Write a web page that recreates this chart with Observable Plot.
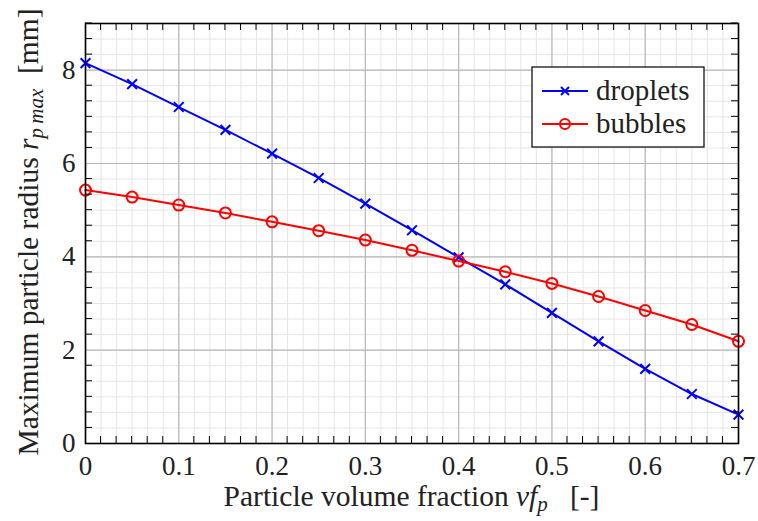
<!DOCTYPE html>
<html>
<head>
<meta charset="utf-8">
<script src="https://cdn.jsdelivr.net/npm/d3@7"></script>
<script src="https://cdn.jsdelivr.net/npm/@observablehq/plot@0.6"></script>
<style>
  body { margin: 0; background: #fff; }
  #chart { width: 758px; height: 521px; }
</style>
</head>
<body>
<div id="chart"></div>
<script>
// ---- data ----
const fractions = [0, 0.05, 0.1, 0.15, 0.2, 0.25, 0.3, 0.35, 0.4, 0.45, 0.5, 0.55, 0.6, 0.65, 0.7];
const droplets  = [8.15, 7.70, 7.21, 6.72, 6.21, 5.69, 5.14, 4.57, 3.99, 3.41, 2.80, 2.19, 1.60, 1.06, 0.62];
const bubbles   = [5.43, 5.28, 5.11, 4.94, 4.75, 4.56, 4.36, 4.14, 3.91, 3.68, 3.43, 3.15, 2.85, 2.55, 2.19];
const xTickValues = [0, 0.1, 0.2, 0.3, 0.4, 0.5, 0.6, 0.7];
const xTickLabels = ["0", "0.1", "0.2", "0.3", "0.4", "0.5", "0.6", "0.7"];
const yTickValues = [0, 2, 4, 6, 8];
const yTickLabels = ["0", "2", "4", "6", "8"];
const seriesNames = ["droplets", "bubbles"];
const seriesColors = ["#0000ff", "#ff0000"];

// minor subdivisions (5 minor ticks between majors)
const xMinor = d3.range(0, 43).map(i => i * 0.1 / 6);
const yMinor = d3.range(0, 28).map(i => i / 3);

const dropData = fractions.map((f, i) => ({x: f, y: droplets[i]}));
const bubData  = fractions.map((f, i) => ({x: f, y: bubbles[i]}));

const plot = Plot.plot({
  width: 758,
  height: 521,
  marginLeft: 85,
  marginRight: 20,
  marginTop: 23,
  marginBottom: 78,
  style: {fontFamily: "'Liberation Serif', serif", fontSize: "27px", background: "#fff", color: "#222"},
  x: {domain: [0, 0.7], label: null},
  y: {domain: [0, 9], label: null},
  marks: [
    Plot.gridX(xMinor, {stroke: "#e6e6e6", strokeOpacity: 1, strokeWidth: 1}),
    Plot.gridY(yMinor, {stroke: "#e6e6e6", strokeOpacity: 1, strokeWidth: 1}),
    Plot.gridX(xTickValues, {stroke: "#b8b8b8", strokeOpacity: 1, strokeWidth: 1.2}),
    Plot.gridY(yTickValues, {stroke: "#b8b8b8", strokeOpacity: 1, strokeWidth: 1.2}),
    Plot.axisX({ticks: xTickValues, tickSize: 0, tickPadding: 12,
      tickFormat: (d) => xTickLabels[xTickValues.indexOf(d)], fill: "#222", label: null}),
    Plot.axisY({ticks: yTickValues, tickSize: 0, tickPadding: 10,
      tickFormat: (d) => yTickLabels[yTickValues.indexOf(d)], fill: "#222", label: null}),
    Plot.line(dropData, {x: "x", y: "y", stroke: seriesColors[0], strokeWidth: 2}),
    Plot.dot(dropData, {x: "x", y: "y", symbol: "times", r: 4.5, stroke: seriesColors[0], strokeWidth: 2}),
    Plot.line(bubData, {x: "x", y: "y", stroke: seriesColors[1], strokeWidth: 2}),
    Plot.dot(bubData, {x: "x", y: "y", symbol: "circle", r: 5.5, stroke: seriesColors[1], fill: "none", strokeWidth: 2}),
    Plot.frame({stroke: "black", strokeWidth: 1.6})
  ]
});

document.getElementById("chart").appendChild(plot);

const svg = d3.select(plot);
const sx = plot.scale("x"), sy = plot.scale("y");
const [x0, x1] = sx.range, [y0, y1] = sy.range; // y0 bottom, y1 top
const tl = 7;

// inward minor ticks on all four sides
const tg = svg.append("g").attr("stroke", "black").attr("stroke-width", 1);
xMinor.filter((v, i) => i % 6 !== 0).forEach(v => {
  const px = sx.apply(v);
  tg.append("line").attr("x1", px).attr("x2", px).attr("y1", y0).attr("y2", y0 - tl);
  tg.append("line").attr("x1", px).attr("x2", px).attr("y1", y1).attr("y2", y1 + tl);
});
yMinor.filter((v, i) => i % 6 !== 0).forEach(v => {
  const py = sy.apply(v);
  tg.append("line").attr("y1", py).attr("y2", py).attr("x1", x0).attr("x2", x0 + tl);
  tg.append("line").attr("y1", py).attr("y2", py).attr("x1", x1).attr("x2", x1 - tl);
});

// axis labels
const xl = svg.append("text")
  .attr("x", (x0 + x1) / 2).attr("y", 506)
  .attr("text-anchor", "middle").attr("fill", "#222")
  .style("font-size", "29.5px");
xl.append("tspan").text("Particle volume fraction ");
xl.append("tspan").attr("font-style", "italic").text("vf");
xl.append("tspan").attr("font-style", "italic").attr("font-size", "21px").attr("dy", 5).text("p");
xl.append("tspan").attr("dy", -5).text("\u2002 [-]");

const yl = svg.append("text")
  .attr("transform", `translate(38,232) rotate(-90)`)
  .attr("text-anchor", "middle").attr("fill", "#222")
  .style("font-size", "29.5px");
yl.append("tspan").text("Maximum particle radius ");
yl.append("tspan").attr("font-style", "italic").text("r");
yl.append("tspan").attr("font-style", "italic").attr("font-size", "21px").attr("dy", 5).text("p\u2009max");
yl.append("tspan").attr("dy", -5).text("\u2002[mm]");

// legend
const lg = svg.append("g").attr("text-anchor", "start");
lg.append("rect").attr("x", 532).attr("y", 67).attr("width", 172).attr("height", 80)
  .attr("fill", "white").attr("stroke", "black").attr("stroke-width", 1.2);
seriesNames.forEach((name, i) => {
  const cy = 91 + i * 33;
  lg.append("line").attr("x1", 542).attr("x2", 588).attr("y1", cy).attr("y2", cy)
    .attr("stroke", seriesColors[i]).attr("stroke-width", 2);
  if (i === 0) {
    lg.append("path").attr("d", `M561,${cy-4}L569,${cy+4}M561,${cy+4}L569,${cy-4}`)
      .attr("stroke", seriesColors[i]).attr("stroke-width", 2);
  } else {
    lg.append("circle").attr("cx", 565).attr("cy", cy).attr("r", 5)
      .attr("stroke", seriesColors[i]).attr("stroke-width", 2).attr("fill", "none");
  }
  lg.append("text").attr("x", 596).attr("y", cy).attr("dy", "0.32em")
    .attr("fill", "#222").style("font-size", "29px").text(name);
});
</script>
</body>
</html>
